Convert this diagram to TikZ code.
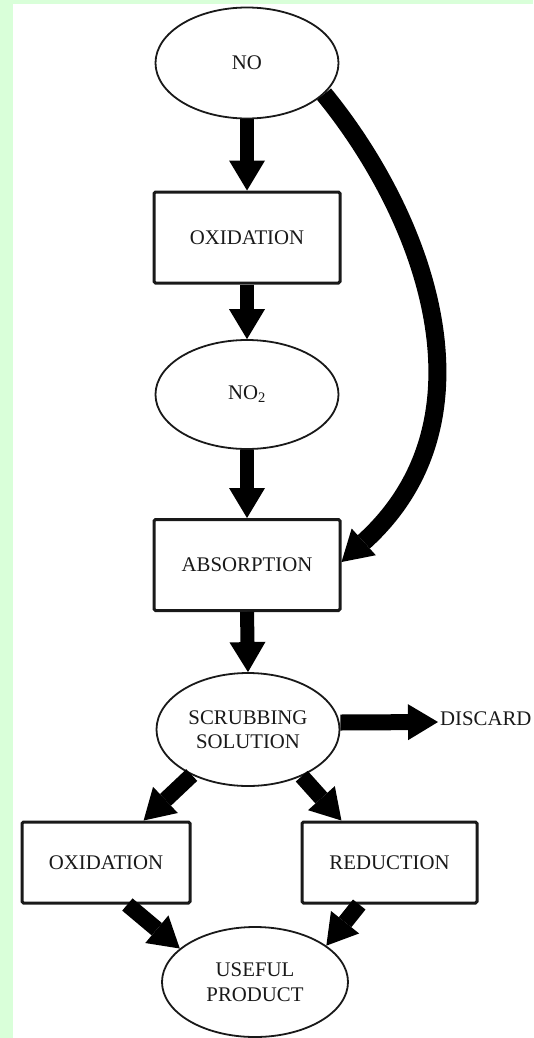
\documentclass[tikz,border=0pt]{standalone}
\usepackage{fontspec}
\setmainfont{Liberation Serif}
\usetikzlibrary{arrows.meta,shapes.geometric,calc}
\definecolor{pagegreen}{RGB}{217,255,217}
\definecolor{ink}{RGB}{25,25,25}
\begin{document}
\begin{tikzpicture}[x=1pt,y=-1pt,
  every node/.style={font=\fontsize{20.8}{24.5}\selectfont, text=ink},
  oval/.style={draw=ink, line width=1.8pt, ellipse, minimum width=183pt,
    minimum height=111pt, inner sep=0pt, align=center},
  stage/.style={draw=ink, line width=3pt, rounded corners=1.5pt, rectangle,
    minimum width=186pt, minimum height=91pt, inner sep=0pt, align=center},
  flow/.style={draw=black, line width=14pt,
    -{Triangle[length=30pt 0 0, width=36pt 0 0, line width=0pt 0 0]}}]

% frame
\fill[pagegreen] (0,0) rectangle (533,1038);
\fill[white] (13,4) rectangle (533,1038);

% main column
\node[oval] (no) at (247,63) {NO};
\node[stage] (ox) at (247,237.5) {OXIDATION};
\node[oval, minimum height=109pt] (no2) at (247,394.5) {NO\textsubscript{2}};
\node[stage] (abs) at (247,565) {ABSORPTION};
\node[oval, minimum height=113pt] (scrub) at (248,729.5) {SCRUBBING\\SOLUTION};
\node[anchor=west, inner sep=0pt] (discard) at (440,718.5) {DISCARD};

% treatment branches
\node[stage, minimum width=168pt, minimum height=81pt] (oxl) at (106,862.5) {OXIDATION};
\node[stage, minimum width=175pt, minimum height=81pt] (red) at (389.5,862.5) {REDUCTION};
\node[oval, minimum width=186pt, minimum height=110pt] (useful) at (255,982) {USEFUL\\PRODUCT};

% vertical flow
\draw[flow] (no.south) -- (ox.north);
\draw[flow] (ox.south) -- (no2.north);
\draw[flow] (no2.south) -- (abs.north);
\draw[flow] (abs.south) -- (scrub.north);

% bypass from NO straight to absorption
\draw[flow, line width=18pt] (no.-22) .. controls +(102,125) and +(157,-142) .. ($(abs.east)+(0,-3)$);

% discard stream
\draw[flow, line width=16pt] ($(scrub.east)+(0,-7)$) -- ($(discard.west)+(-2,3.5)$);

% split and merge
\draw[flow, line width=16pt] (scrub.219) -- ($(oxl.north west)!0.72!(oxl.north east)$);
\draw[flow, line width=16pt] (scrub.319) -- ($(red.north west)!0.23!(red.north east)$);
\draw[flow, line width=16pt] ($(oxl.south west)!0.625!(oxl.south east)$) -- (useful.156);
\draw[flow, line width=16pt] ($(red.south west)!0.33!(red.south east)$) -- (useful.27);
\end{tikzpicture}
\end{document}
